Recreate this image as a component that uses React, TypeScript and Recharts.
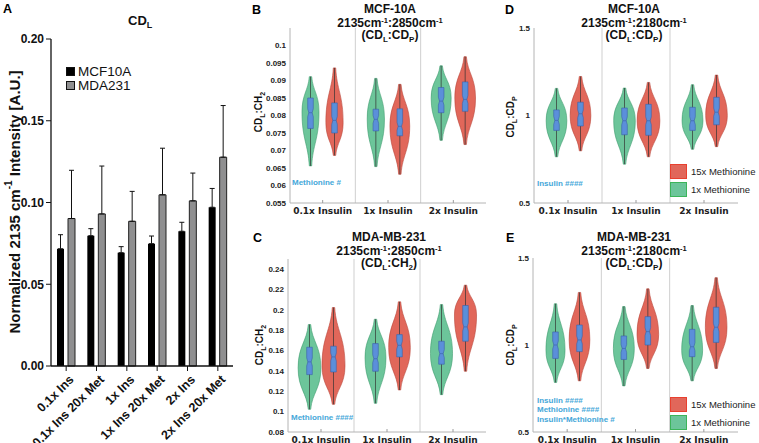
import React from "react";
import {
  Bar,
  BarChart,
  ComposedChart,
  ErrorBar,
  Legend,
  ReferenceLine,
  XAxis,
  YAxis,
} from "recharts";

// ---- panel A: CD_L bar chart ----
const insLabels = ["0.1x Ins", "0.1x Ins 20x Met", "1x Ins", "1x Ins 20x Met", "2x Ins", "2x Ins 20x Met"];
const mcfMean = [0.0717, 0.0797, 0.0693, 0.0748, 0.0824, 0.0971];
const mcfTop = [0.0803, 0.084, 0.073, 0.0795, 0.0879, 0.1086];
const mdaMean = [0.0902, 0.093, 0.0885, 0.1047, 0.101, 0.1277];
const mdaTop = [0.1197, 0.1223, 0.1068, 0.1332, 0.118, 0.1593];
const aTicks = [0, 0.05, 0.1, 0.15, 0.2];

// ---- violin panels ----
const groups = ["0.1x Insulin", "1x Insulin", "2x Insulin"];

// rows: [min, q1, median, q3, max, widest point, relative width]
const bCtrl = [
  [0.0656, 0.0763, 0.0808, 0.085, 0.0911, 0.081, 0.74],
  [0.0654, 0.0756, 0.0789, 0.0818, 0.0906, 0.079, 0.75],
  [0.0729, 0.0808, 0.0841, 0.088, 0.0942, 0.085, 0.87],
];
const bMet = [
  [0.0686, 0.075, 0.0786, 0.0836, 0.0936, 0.078, 0.75],
  [0.0632, 0.0742, 0.0769, 0.0819, 0.0889, 0.077, 0.86],
  [0.0717, 0.0812, 0.0846, 0.0896, 0.0968, 0.085, 0.9],
];
const cCtrl = [
  [0.1023, 0.1364, 0.1489, 0.1633, 0.1856, 0.143, 0.99],
  [0.1082, 0.1397, 0.152, 0.1669, 0.1908, 0.153, 0.91],
  [0.1167, 0.1466, 0.157, 0.1692, 0.2052, 0.157, 0.96],
];
const cMet = [
  [0.1072, 0.139, 0.1538, 0.1643, 0.2023, 0.145, 1.0],
  [0.1213, 0.1538, 0.1652, 0.1757, 0.2079, 0.163, 0.94],
  [0.1397, 0.1692, 0.1833, 0.2043, 0.2243, 0.195, 0.96],
];
const dCtrl = [
  [0.764, 0.915, 0.972, 1.032, 1.155, 0.97, 0.9],
  [0.722, 0.89, 0.97, 1.043, 1.157, 0.97, 0.94],
  [0.807, 0.915, 0.97, 1.047, 1.176, 0.97, 0.91],
];
const dMet = [
  [0.798, 0.94, 1.01, 1.076, 1.223, 1.0, 0.9],
  [0.764, 0.887, 0.97, 1.064, 1.189, 0.97, 0.99],
  [0.822, 0.947, 1.019, 1.104, 1.231, 1.0, 0.94],
];
const eCtrl = [
  [0.785, 0.923, 1.0, 1.075, 1.237, 0.97, 0.83],
  [0.765, 0.917, 0.98, 1.052, 1.221, 0.98, 0.91],
  [0.794, 0.933, 0.99, 1.09, 1.227, 0.97, 0.91],
];
const eMet = [
  [0.794, 0.962, 1.029, 1.115, 1.302, 1.03, 0.9],
  [0.865, 1.0, 1.077, 1.163, 1.323, 1.06, 0.94],
  [0.865, 1.015, 1.102, 1.217, 1.387, 1.1, 0.94],
];
const bTicks = [0.055, 0.06, 0.065, 0.07, 0.075, 0.08, 0.085, 0.09, 0.095, 0.1];
const cTicks = [0.08, 0.1, 0.12, 0.14, 0.16, 0.18, 0.2, 0.22, 0.24];
const dTicks = [0.5, 1, 1.5];

const GREEN = "#6cc59a";
const GREEN_EDGE = "#3f9c6e";
const RED = "#e1675a";
const RED_EDGE = "#b8473b";
const NOTE = "#45a7d9";
const SANS = "Arial, 'Liberation Sans', sans-serif";

const aData = insLabels.map((name, i) => ({
  name,
  mcf: mcfMean[i],
  mcfErr: [0, mcfTop[i] - mcfMean[i]],
  mda: mdaMean[i],
  mdaErr: [0, mdaTop[i] - mdaMean[i]],
}));

const toStats = (r: number[]) => ({ min: r[0], q1: r[1], med: r[2], q3: r[3], max: r[4], peak: r[5], w: r[6] });

const buildRows = (ctrl: number[][], met: number[][]) =>
  groups.map((group, i) => ({
    group,
    ctrl: toStats(ctrl[i]),
    met: toStats(met[i]),
    ctrlRange: [ctrl[i][0], ctrl[i][4]],
    metRange: [met[i][0], met[i][4]],
  }));

const InsTick = ({ x, y, payload }: any) => (
  <g transform={`translate(${x + 2},${y + 3})`}>
    <text
      textAnchor="end"
      transform="rotate(-45)"
      dy="0.72em"
      fontFamily={SANS}
      fontWeight="bold"
      fontSize={12.5}
      fill="#111"
    >
      {payload.value}
    </text>
  </g>
);

const GroupTick = ({ x, y, payload }: any) => (
  <g>
    <line x1={x} x2={x} y1={y} y2={y - 3} stroke="#9c9c9c" />
    <text x={x} y={y + 11} textAnchor="middle" fontFamily="'DejaVu Sans'" fontWeight="bold" fontSize={9} fill="#222">
      {payload.value}
    </text>
  </g>
);

function makeViolin(key: "ctrl" | "met", fill: string, edge: string) {
  return (props: any) => {
    const { x, y, width, height, payload } = props;
    const s = payload[key];
    const top = Math.min(y, y + height);
    const bot = Math.max(y, y + height);
    const span = bot - top;
    const py = (v: number) => bot - ((v - s.min) / (s.max - s.min)) * span;
    const cx = x + width / 2;
    const hw = (width / 2) * s.w;
    const e = 1.2;
    const t = e + (hw - e) * 0.15;
    const yp = py(s.peak);
    const dl = bot - yp;
    const du = yp - top;
    const path =
      `M${cx + e},${bot} C${cx + t},${bot - dl * 0.4} ${cx + hw},${yp + dl * 0.5} ${cx + hw},${yp} ` +
      `C${cx + hw},${yp - du * 0.5} ${cx + t},${top + du * 0.4} ${cx + e},${top} L${cx - e},${top} ` +
      `C${cx - t},${top + du * 0.4} ${cx - hw},${yp - du * 0.5} ${cx - hw},${yp} ` +
      `C${cx - hw},${yp + dl * 0.5} ${cx - t},${bot - dl * 0.4} ${cx - e},${bot} Z`;
    const q1y = py(s.q1);
    const q3y = py(s.q3);
    const my = py(s.med);
    const bw = 2.8;
    const nh = Math.min((q1y - q3y) * 0.25, 4);
    const inner = bw * 0.6;
    const box = [
      [cx - bw, q3y],
      [cx + bw, q3y],
      [cx + bw, my - nh],
      [cx + inner, my],
      [cx + bw, my + nh],
      [cx + bw, q1y],
      [cx - bw, q1y],
      [cx - bw, my + nh],
      [cx - inner, my],
      [cx - bw, my - nh],
    ]
      .map((p) => p.join(","))
      .join(" ");
    return (
      <g>
        <path d={path} fill={fill} stroke={edge} strokeWidth={0.6} />
        <line x1={cx} x2={cx} y1={top} y2={bot} stroke="#333" strokeWidth={0.7} />
        <polygon points={box} fill="#5b8fda" stroke="#3a62aa" strokeWidth={0.6} />
        <line x1={cx - inner} x2={cx + inner} y1={my} y2={my} stroke="#3a62aa" strokeWidth={0.6} />
      </g>
    );
  };
}

const ctrlShape = makeViolin("ctrl", GREEN, GREEN_EDGE);
const metShape = makeViolin("met", RED, RED_EDGE);

const ViolinLegend = ({ payload }: any) => {
  const items = [...(payload || [])].sort((a: any, b: any) =>
    String(a.value).startsWith("15x") ? -1 : String(b.value).startsWith("15x") ? 1 : 0
  );
  return (
    <div>
      {items.map((p: any) => (
        <div key={p.value} style={{ display: "flex", alignItems: "center", height: 18 }}>
          <span
            style={{
              width: 15,
              height: 13,
              background: p.color,
              border: `1px solid ${String(p.value).startsWith("15x") ? "#e8402f" : "#3cb45a"}`,
              marginRight: 4,
            }}
          />
          <span style={{ font: `9.5px ${SANS}`, color: "#222", whiteSpace: "nowrap" }}>{p.value}</span>
        </div>
      ))}
    </div>
  );
};

interface ViolinProps {
  left: number;
  top: number;
  width: number;
  height: number;
  marginTop: number;
  axisWidth: number;
  right: number;
  xHeight: number;
  domain: [number, number];
  ticks: number[];
  ctrl: number[][];
  met: number[][];
  legendTop?: number;
}

function ViolinPanel(p: ViolinProps) {
  const rows = buildRows(p.ctrl, p.met);
  return (
    <div style={{ position: "absolute", left: p.left, top: p.top }}>
      <ComposedChart
        width={p.width}
        height={p.height}
        data={rows}
        margin={{ top: p.marginTop, right: p.right, bottom: 0, left: 0 }}
        barSize={23}
        barGap={1}
      >
        <XAxis
          dataKey="group"
          height={p.xHeight}
          interval={0}
          tickLine={false}
          tickSize={0}
          tickMargin={0}
          axisLine={{ stroke: "#b4b4b4" }}
          tick={<GroupTick />}
        />
        <YAxis
          width={p.axisWidth}
          domain={p.domain}
          ticks={p.ticks}
          interval={0}
          tickLine={false}
          tickSize={0}
          tickMargin={4}
          axisLine={{ stroke: "#b4b4b4" }}
          tick={{ fontFamily: SANS, fontWeight: "bold", fontSize: 8, fill: "#222" }}
          tickFormatter={(v) => String(+Number(v).toFixed(3))}
        />
        <ReferenceLine x={groups[1]} position="start" stroke="#cfcfcf" />
        <ReferenceLine x={groups[2]} position="start" stroke="#cfcfcf" />
        <Bar dataKey="ctrlRange" name="1x Methionine" fill={GREEN} shape={ctrlShape} isAnimationActive={false} />
        <Bar dataKey="metRange" name="15x Methionine" fill={RED} shape={metShape} isAnimationActive={false} />
        {p.legendTop !== undefined && (
          <Legend
            layout="vertical"
            align="center"
            verticalAlign="middle"
            wrapperStyle={{ left: 165, top: p.legendTop, width: 90, height: 36 }}
            content={<ViolinLegend />}
          />
        )}
      </ComposedChart>
    </div>
  );
}

function Titles({ cx, y, name, wave, sub }: { cx: number; y: number; name: string; wave: string; sub: string }) {
  const common = { textAnchor: "middle" as const, fontFamily: SANS, fontWeight: "bold", fontSize: 12, fill: "#111" };
  return (
    <g>
      <text x={cx} y={y} {...common}>
        {name}
      </text>
      <text x={cx} y={y + 14} {...common}>
        2135cm<tspan fontSize={7.5} dy={-4}>-1</tspan>
        <tspan dy={4}>:{wave}cm</tspan>
        <tspan fontSize={7.5} dy={-4}>-1</tspan>
      </text>
      <text x={cx} y={y + 26} {...common}>
        (CD<tspan fontSize={8} dy={3}>L</tspan>
        <tspan dy={-3}>:C{sub === "P" ? "D" : "H"}</tspan>
        <tspan fontSize={8} dy={3}>{sub}</tspan>
        <tspan dy={-3}>)</tspan>
      </text>
    </g>
  );
}

function YLab({ x, y, sub }: { x: number; y: number; sub: string }) {
  return (
    <text
      transform={`translate(${x},${y}) rotate(-90)`}
      textAnchor="middle"
      fontFamily={SANS}
      fontWeight="bold"
      fontSize={10}
      fill="#111"
    >
      CD<tspan fontSize={7} dy={3}>L</tspan>
      <tspan dy={-3}>:C{sub === "P" ? "D" : "H"}</tspan>
      <tspan fontSize={7} dy={3}>{sub}</tspan>
    </text>
  );
}

const Note = ({ x, y, children }: any) => (
  <text x={x} y={y} fontFamily={SANS} fontWeight="bold" fontSize={8} fill={NOTE}>
    {children}
  </text>
);

const Letter = ({ x, y, children }: any) => (
  <text x={x} y={y} fontFamily={SANS} fontWeight="bold" fontSize={12.5} fill="#000">
    {children}
  </text>
);

const BarLegend = ({ payload }: any) => (
  <div>
    {(payload || []).map((p: any) => (
      <div key={p.value} style={{ display: "flex", alignItems: "center", height: 14.5 }}>
        <span
          style={{
            width: 7,
            height: 7,
            background: p.color,
            border: "1px solid #111",
            marginRight: 3,
          }}
        />
        <span style={{ font: `13.5px ${SANS}`, color: "#111", whiteSpace: "nowrap" }}>{p.value}</span>
      </div>
    ))}
  </div>
);

export default function App() {
  return (
    <div style={{ position: "absolute", left: 0, top: 0, width: 759, height: 443, background: "#fff", overflow: "hidden" }}>
      <div style={{ position: "absolute", left: 0, top: 0 }}>
        <BarChart
          width={250}
          height={443}
          data={aData}
          margin={{ top: 39, right: 17, bottom: 0, left: 0 }}
          barSize={7}
          barGap={4}
        >
          <XAxis
            dataKey="name"
            height={77}
            interval={0}
            tickSize={5}
            tickMargin={0}
            axisLine={{ stroke: "#111", strokeWidth: 1.3 }}
            tickLine={{ stroke: "#111" }}
            tick={<InsTick />}
          />
          <YAxis
            width={51}
            domain={[0, 0.2]}
            ticks={aTicks}
            interval={0}
            tickSize={5}
            tickMargin={2}
            axisLine={{ stroke: "#111", strokeWidth: 1.3 }}
            tickLine={{ stroke: "#111" }}
            tick={{ fontFamily: SANS, fontWeight: "bold", fontSize: 12, fill: "#111" }}
            tickFormatter={(v) => Number(v).toFixed(2)}
          />
          <Bar dataKey="mcf" name="MCF10A" fill="#000" isAnimationActive={false}>
            <ErrorBar dataKey="mcfErr" width={2.5} stroke="#111" strokeWidth={1} direction="y" />
          </Bar>
          <Bar dataKey="mda" name="MDA231" fill="#8f8f90" stroke="#222" strokeWidth={1} isAnimationActive={false}>
            <ErrorBar dataKey="mdaErr" width={2.5} stroke="#111" strokeWidth={1} direction="y" />
          </Bar>
          <Legend
            layout="vertical"
            align="center"
            verticalAlign="middle"
            wrapperStyle={{ left: 66, top: 64, width: 100, height: 30 }}
            content={<BarLegend />}
          />
        </BarChart>
      </div>

      <ViolinPanel left={250} top={0} width={255} height={220} marginTop={28} axisWidth={40} right={19} xHeight={17}
        domain={[0.055, 0.105]} ticks={bTicks} ctrl={bCtrl} met={bMet} />
      <ViolinPanel left={250} top={220} width={255} height={223} marginTop={39} axisWidth={38} right={19} xHeight={11}
        domain={[0.08, 0.25]} ticks={cTicks} ctrl={cCtrl} met={cMet} />
      <ViolinPanel left={505} top={0} width={254} height={220} marginTop={28} axisWidth={29} right={21} xHeight={17}
        domain={[0.5, 1.5]} ticks={dTicks} ctrl={dCtrl} met={dMet} legendTop={162} />
      <ViolinPanel left={505} top={220} width={254} height={223} marginTop={38} axisWidth={28} right={21} xHeight={11}
        domain={[0.5, 1.5]} ticks={dTicks} ctrl={eCtrl} met={eMet} legendTop={175} />

      <svg width={759} height={443} style={{ position: "absolute", left: 0, top: 0, pointerEvents: "none" }}>
        <Letter x={3} y={13}>A</Letter>
        <Letter x={252} y={14}>B</Letter>
        <Letter x={253} y={242}>C</Letter>
        <Letter x={505} y={14}>D</Letter>
        <Letter x={506} y={242}>E</Letter>

        <text x={128} y={25} fontFamily={SANS} fontWeight="bold" fontSize={13} fill="#111">
          CD<tspan fontSize={9} dy={3}>L</tspan>
        </text>
        <text
          transform="translate(14,202) rotate(-90)"
          textAnchor="middle"
          dominantBaseline="central"
          fontFamily={SANS}
          fontWeight="bold"
          fontSize={15}
          fill="#111"
        >
          Normalized 2135 cm<tspan fontSize={10} dy={-6}>-1</tspan>
          <tspan dy={6}> Intensity [A.U.]</tspan>
        </text>

        <Titles cx={390} y={13} name="MCF-10A" wave="2850" sub="P" />
        <Titles cx={389} y={241} name="MDA-MB-231" wave="2850" sub="2" />
        <Titles cx={634} y={13} name="MCF-10A" wave="2180" sub="P" />
        <Titles cx={634} y={241} name="MDA-MB-231" wave="2180" sub="P" />

        <YLab x={262} y={112} sub="2" />
        <YLab x={263} y={345} sub="2" />
        <YLab x={514} y={117} sub="P" />
        <YLab x={514} y={345} sub="P" />

        <Note x={292} y={185}>Methionine #</Note>
        <Note x={291} y={420}>Methionine ####</Note>
        <Note x={537} y={186}>Insulin ####</Note>
        <Note x={537} y={403}>Insulin ####</Note>
        <Note x={537} y={412}>Methionine ####</Note>
        <Note x={537} y={422}>Insulin*Methionine #</Note>
      </svg>
    </div>
  );
}
